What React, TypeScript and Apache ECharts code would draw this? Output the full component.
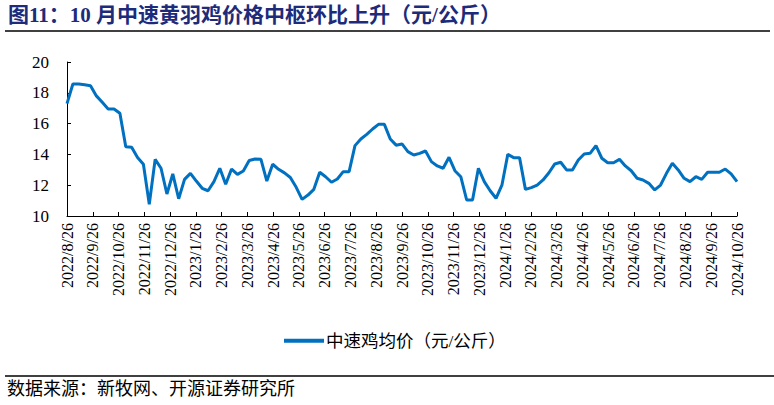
import React, { useEffect, useRef } from "react";
import * as echarts from "echarts";

const titleText = "图11：10 月中速黄羽鸡价格中枢环比上升（元/公斤）";
const sourceText = "数据来源：新牧网、开源证券研究所";
const seriesName = "中速鸡均价（元/公斤）";

const monthLabels = [
  "2022/8/26", "2022/9/26", "2022/10/26", "2022/11/26", "2022/12/26",
  "2023/1/26", "2023/2/26", "2023/3/26", "2023/4/26", "2023/5/26",
  "2023/6/26", "2023/7/26", "2023/8/26", "2023/9/26", "2023/10/26",
  "2023/11/26", "2023/12/26", "2024/1/26", "2024/2/26", "2024/3/26",
  "2024/4/26", "2024/5/26", "2024/6/26", "2024/7/26", "2024/8/26",
  "2024/9/26", "2024/10/26",
];

const priceValues = [
  17.3, 18.57, 18.57, 18.52, 18.46, 17.8, 17.38, 16.95, 16.95, 16.67,
  14.5, 14.46, 13.8, 13.36, 10.76, 13.68, 13.1, 11.43, 12.73, 11.12,
  12.38, 12.77, 12.27, 11.8, 11.64, 12.23, 13.1, 12.06, 13.05, 12.7,
  12.92, 13.6, 13.7, 13.68, 12.27, 13.36, 13.03, 12.8, 12.5, 11.86,
  11.08, 11.36, 11.73, 12.84, 12.55, 12.19, 12.4, 12.88, 12.88, 14.57,
  15.0, 15.3, 15.65, 15.95, 15.95, 15.0, 14.6, 14.68, 14.18, 13.96,
  14.07, 14.22, 13.53, 13.25, 13.1, 13.81, 12.94, 12.55, 11.04, 11.04,
  13.1, 12.23, 11.64, 11.15, 12.0, 14.0, 13.79, 13.79, 11.73, 11.84,
  12.01, 12.34, 12.81, 13.38, 13.49, 12.99, 12.99, 13.64, 14.03, 14.07,
  14.57, 13.75, 13.46, 13.46, 13.68, 13.25, 12.94, 12.45, 12.34, 12.12,
  11.69, 12.01, 12.77, 13.42, 12.99, 12.45, 12.23, 12.55, 12.38, 12.84,
  12.84, 12.84, 13.05, 12.73, 12.23,
];

const weekIndex = priceValues.map((_, i) => String(i));

const serif = "'Liberation Serif', 'Times New Roman', 'Noto Sans CJK SC', serif";
const cjk = "'Liberation Serif', 'Noto Sans CJK SC', sans-serif";

export default function App() {
  const ref = useRef<HTMLDivElement>(null);
  useEffect(() => {
    if (!ref.current) return;
    const chart = echarts.init(ref.current, undefined, { renderer: "svg" });
    chart.setOption({
      animation: false,
      backgroundColor: "#ffffff",
      grid: { left: 67, right: 37, top: 62, bottom: 189, containLabel: false },
      legend: {
        data: [seriesName],
        left: 279,
        top: 327,
        icon: "rect",
        itemWidth: 40,
        itemHeight: 4,
        itemGap: 6,
        textStyle: { fontSize: 17.5, color: "#000", fontFamily: cjk, padding: [0, 0, 0, -3] },
      },
      xAxis: [
        {
          type: "category",
          data: weekIndex,
          boundaryGap: false,
          show: false,
        },
        {
          type: "value",
          position: "bottom",
          min: 0,
          max: monthLabels.length - 1,
          interval: 1,
          axisLine: { show: true, lineStyle: { color: "#000", width: 1 } },
          axisTick: { show: true, inside: true, length: 4, lineStyle: { color: "#000" } },
          splitLine: { show: false },
          axisLabel: {
            rotate: 90,
            margin: 7,
            fontSize: 16,
            color: "#000",
            fontFamily: serif,
            formatter: (v: number) => monthLabels[Math.round(v)] ?? "",
          },
        },
      ],
      yAxis: {
        type: "value",
        min: 10,
        max: 20,
        interval: 2,
        axisLine: { show: true, lineStyle: { color: "#000", width: 1 } },
        axisTick: { show: true, inside: true, length: 4, lineStyle: { color: "#000" } },
        splitLine: { show: false },
        axisLabel: { fontSize: 17, color: "#000", fontFamily: serif, margin: 18 },
      },
      series: [
        {
          name: seriesName,
          type: "line",
          xAxisIndex: 0,
          data: priceValues,
          symbol: "none",
          lineStyle: { color: "#0070C0", width: 3 },
          itemStyle: { color: "#0070C0" },
        },
      ],
      graphic: [
        {
          type: "text",
          left: 8,
          top: 4,
          style: {
            text: titleText,
            fontSize: 21,
            fontWeight: "bold",
            fill: "#1d2b7a",
            fontFamily: cjk,
          },
        },
        {
          type: "line",
          shape: { x1: 5, y1: 31, x2: 770, y2: 31 },
          style: { stroke: "#000", lineWidth: 1.5 },
        },
        {
          type: "line",
          shape: { x1: 5, y1: 376, x2: 778, y2: 376 },
          style: { stroke: "#000", lineWidth: 1.5 },
        },
        {
          type: "text",
          left: 7,
          top: 380,
          style: {
            text: sourceText,
            fontSize: 18,
            fill: "#000",
            fontFamily: cjk,
          },
        },
      ],
    });
    return () => chart.dispose();
  }, []);
  return (
    <div
      ref={ref}
      style={{ position: "fixed", left: 0, top: 0, width: 774, height: 405 }}
    />
  );
}
